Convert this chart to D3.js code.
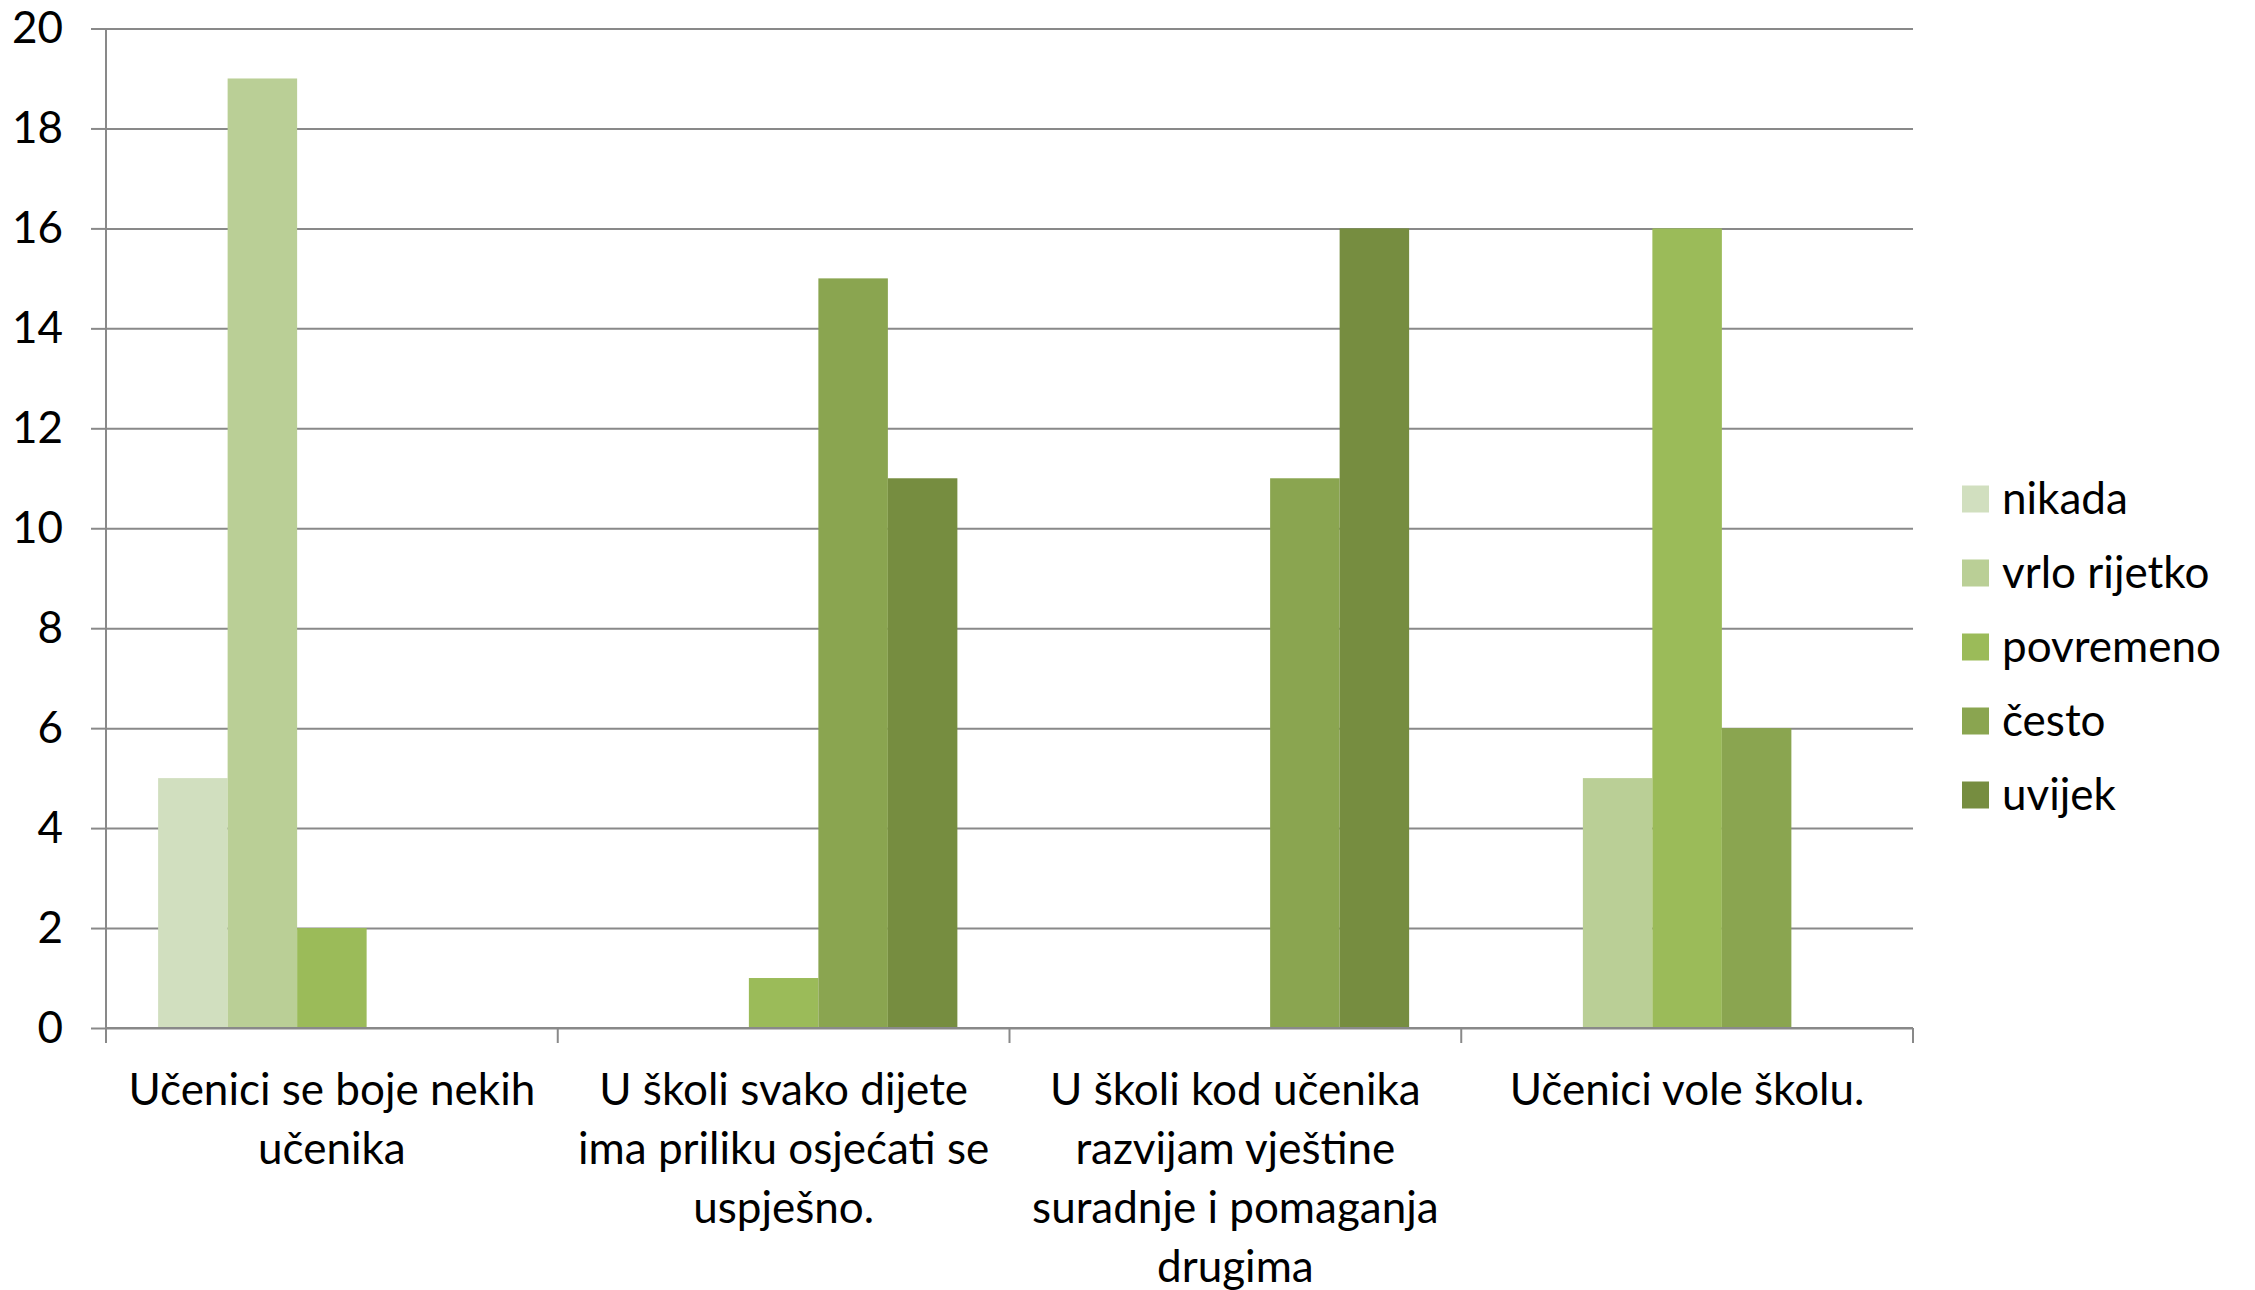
<!DOCTYPE html>
<html>
<head>
<meta charset="utf-8">
<script src="https://cdn.jsdelivr.net/npm/d3@7"></script>
<style>
  body { margin: 0; background: #fff; }
  text { font-family: Lato, "Open Sans", sans-serif; fill: #000; }
</style>
</head>
<body>
<div id="chart"></div>
<script>
// data
let categories = [
  "Učenici se boje nekih\nučenika",
  "U školi svako dijete\nima priliku osjećati se\nuspješno.",
  "U školi kod učenika\nrazvijam vještine\nsuradnje i pomaganja\ndrugima",
  "Učenici vole školu."
];
let seriesNames = ["nikada", "vrlo rijetko", "povremeno", "često", "uvijek"];
let nikada = [5, 0, 0, 0];
let vrloRijetko = [19, 0, 0, 5];
let povremeno = [2, 1, 0, 16];
let cesto = [0, 15, 11, 6];
let uvijek = [0, 11, 16, 0];
let seriesColors = ["#d1dfbf", "#bacf96", "#9bbb59", "#8aa550", "#768d40"];
let yTicks = [0, 2, 4, 6, 8, 10, 12, 14, 16, 18, 20];

let seriesValues = [nikada, vrloRijetko, povremeno, cesto, uvijek];

let svgWidth = 2255;
let svgHeight = 1290;
let margin = { top: 28.5, right: 342, bottom: 262, left: 106 };
let width = svgWidth - margin.left - margin.right;
let height = svgHeight - margin.top - margin.bottom;
let fontSize = 44;

let svg = d3.select("#chart")
  .append("svg")
  .attr("width", svgWidth)
  .attr("height", svgHeight);

let chart = svg.append("g")
  .attr("transform", "translate(" + margin.left + "," + margin.top + ")");

let x0 = d3.scaleBand().domain(d3.range(categories.length)).range([0, width]);
let x1 = d3.scaleBand().domain(d3.range(seriesNames.length))
  .range([0, x0.bandwidth()])
  .paddingInner(0)
  .paddingOuter(0.75);
let y = d3.scaleLinear().domain([0, 20]).range([height, 0]);

// gridlines
chart.append("g")
  .attr("class", "grid")
  .call(d3.axisLeft(y).tickValues(yTicks).tickSize(-width).tickFormat(""))
  .call(g => g.select(".domain").remove())
  .call(g => g.selectAll("line").attr("stroke", "#898989").attr("stroke-width", 2));

// y axis
chart.append("g")
  .call(d3.axisLeft(y).tickValues(yTicks).tickSize(15).tickPadding(28))
  .call(g => g.select(".domain").attr("d", "M0," + height + "V0"))
  .call(g => g.selectAll("line, .domain").attr("stroke", "#898989").attr("stroke-width", 2))
  .call(g => g.selectAll("text")
    .style("font-size", fontSize + "px")
    .style("font-family", "Lato, 'Open Sans', sans-serif")
    .attr("fill", "#000"));

// bars
let groups = chart.append("g").selectAll("g")
  .data(categories)
  .enter()
  .append("g")
  .attr("transform", (d, i) => "translate(" + x0(i) + ",0)");

groups.selectAll("rect")
  .data((d, i) => seriesValues.map((vals, s) => ({ s: s, v: vals[i] })))
  .enter()
  .append("rect")
  .attr("x", d => x1(d.s))
  .attr("width", x1.bandwidth())
  .attr("y", d => y(d.v))
  .attr("height", d => height - y(d.v))
  .attr("fill", d => seriesColors[d.s]);

// x axis line and boundary ticks
let xAxis = chart.append("g").attr("transform", "translate(0," + height + ")");
xAxis.append("line")
  .attr("x1", 0).attr("x2", width)
  .attr("stroke", "#898989").attr("stroke-width", 2);
let bounds = categories.map((c, i) => x0(i)).concat([width]);
xAxis.selectAll(".tickx")
  .data(bounds)
  .enter()
  .append("line")
  .attr("x1", d => d).attr("x2", d => d)
  .attr("y1", 0).attr("y2", 15)
  .attr("stroke", "#898989").attr("stroke-width", 2);

xAxis.selectAll(".lab")
  .data(categories)
  .enter()
  .append("text")
  .attr("text-anchor", "middle")
  .attr("transform", (d, i) => "translate(" + (x0(i) + x0.bandwidth() / 2) + ",77)")
  .style("font-size", fontSize + "px")
  .each(function(d) {
    let t = d3.select(this);
    d.split("\n").forEach((line, k) => {
      t.append("tspan").attr("x", 0).attr("y", k * 59).text(line);
    });
  });

// legend
let legend = svg.append("g").attr("transform", "translate(1962,499)");
let item = legend.selectAll("g")
  .data(seriesNames)
  .enter()
  .append("g")
  .attr("transform", (d, i) => "translate(0," + (i * 74) + ")");
item.append("rect")
  .attr("x", 0).attr("y", -13.5)
  .attr("width", 27).attr("height", 27)
  .attr("fill", (d, i) => seriesColors[i]);
item.append("text")
  .attr("x", 40)
  .attr("y", 15)
  .style("font-size", fontSize + "px")
  .text(d => d);
</script>
</body>
</html>
